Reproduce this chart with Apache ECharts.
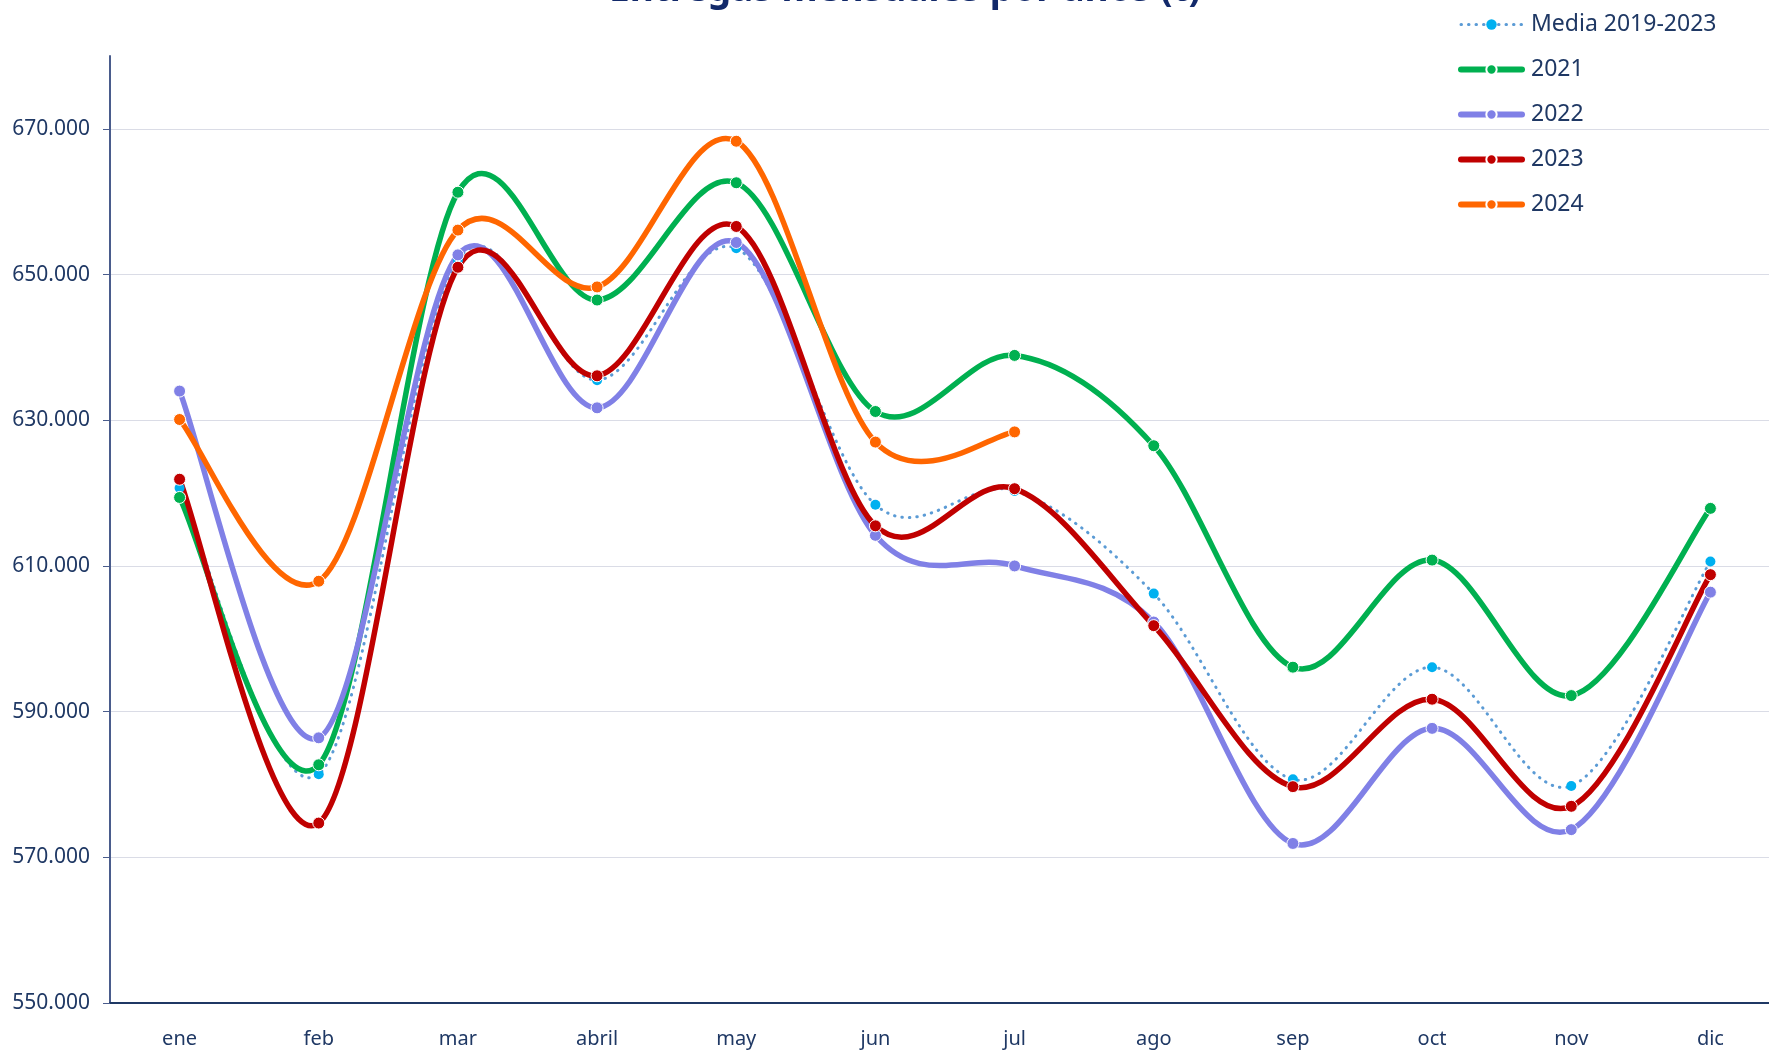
<!DOCTYPE html>
<html>
<head>
<meta charset="utf-8">
<script src="https://cdn.jsdelivr.net/npm/echarts@6/dist/echarts.min.js"></script>
<style>
  html, body { margin: 0; padding: 0; background: #fff; }
  #chart { width: 1769px; height: 1051px; }
</style>
</head>
<body>
<div id="chart"></div>
<script>
// meses y entregas (t)
const months = ['ene', 'feb', 'mar', 'abril', 'may', 'jun', 'jul', 'ago', 'sep', 'oct', 'nov', 'dic'];
const media = [620700, 581400, 652000, 635500, 653600, 618400, 620300, 606200, 580700, 596100, 579800, 610600];
const y2021 = [619400, 582700, 661300, 646500, 662600, 631200, 638900, 626500, 596100, 610800, 592200, 617900];
const y2022 = [634000, 586400, 652700, 631700, 654400, 614200, 610000, 602300, 571900, 587700, 573800, 606400];
const y2023 = [621900, 574700, 651000, 636100, 656600, 615500, 620600, 601800, 579700, 591700, 577000, 608800];
const y2024 = [630100, 607900, 656100, 648300, 668300, 627000, 628400];

const navy = '#1F3864';
const font = 'Noto Sans';

const fmt = v => String(v).replace(/\B(?=(\d{3})+(?!\d))/g, '.');

// curva suave tipo Excel (Catmull-Rom) dibujada con las coordenadas del eje
const smoothPath = (values, stroke, width, dash) => ({
  type: 'custom',
  silent: true,
  data: values.map((v, i) => [i, v]),
  renderItem: (params, api) => {
    if (params.dataIndex !== 0) return null;
    const pts = values.map((v, i) => api.coord([i, v]));
    let d = 'M' + pts[0][0] + ' ' + pts[0][1];
    for (let i = 0; i < pts.length - 1; i++) {
      const p0 = pts[Math.max(i - 1, 0)];
      const p1 = pts[i];
      const p2 = pts[i + 1];
      const p3 = pts[Math.min(i + 2, pts.length - 1)];
      const c1 = [p1[0] + (p2[0] - p0[0]) / 6, p1[1] + (p2[1] - p0[1]) / 6];
      const c2 = [p2[0] - (p3[0] - p1[0]) / 6, p2[1] - (p3[1] - p1[1]) / 6];
      d += ' C' + c1[0] + ' ' + c1[1] + ' ' + c2[0] + ' ' + c2[1] + ' ' + p2[0] + ' ' + p2[1];
    }
    return {
      type: 'path',
      shape: { pathData: d },
      style: {
        fill: null, stroke, lineWidth: width, lineCap: 'round', lineJoin: 'round',
        lineDash: dash || null
      }
    };
  }
});

// solo marcadores (la línea la pinta smoothPath)
const markers = (name, data, color, border) => ({
  name,
  type: 'line',
  data,
  symbol: 'circle',
  symbolSize: border ? 12 : 10,
  lineStyle: { opacity: 0 },
  itemStyle: { color, borderColor: border ? '#fff' : color, borderWidth: border ? 1 : 0 }
});

const chart = echarts.init(document.getElementById('chart'));
const option = {
  animation: false,
  title: {
    text: 'Entregas mensuales por años (t)',
    left: 604,
    top: -33,
    textStyle: { fontFamily: font, fontSize: 37, fontWeight: 'bold', color: '#12296A' }
  },
  legend: {
    orient: 'vertical',
    left: 1453,
    top: 8,
    itemWidth: 61,
    itemHeight: 13,
    itemGap: 22,
    textStyle: { fontFamily: font, fontSize: 23, color: navy, padding: [0, 0, 0, 4] },
    data: [
      { name: 'Media 2019-2023', lineStyle: { opacity: 1, color: '#5B9BD5', width: 3, type: [0.5, 7], cap: 'round' } },
      { name: '2021', lineStyle: { opacity: 1, color: '#00B050', width: 6, cap: 'round' } },
      { name: '2022', lineStyle: { opacity: 1, color: '#8080E6', width: 6, cap: 'round' } },
      { name: '2023', lineStyle: { opacity: 1, color: '#C00000', width: 6, cap: 'round' } },
      { name: '2024', lineStyle: { opacity: 1, color: '#FF6600', width: 6, cap: 'round' } }
    ]
  },
  grid: { left: 110, width: 1670, top: 56, bottom: 48, outerBoundsMode: 'none' },
  xAxis: {
    type: 'category',
    data: months,
    axisLine: { lineStyle: { color: navy, width: 2 } },
    axisTick: { length: 9, lineStyle: { color: navy, width: 1 } },
    axisLabel: { fontFamily: font, fontSize: 20, color: navy, margin: 26 }
  },
  yAxis: {
    type: 'value',
    min: 550000,
    max: 680000,
    interval: 20000,
    axisLine: { show: true, lineStyle: { color: '#4A5C8C', width: 2 } },
    axisTick: { show: true, length: 7, lineStyle: { color: '#4A5C8C' } },
    axisLabel: {
      fontFamily: font, fontSize: 21, color: navy, margin: 20,
      showMaxLabel: false,
      formatter: v => (v > 670000 ? '' : fmt(v))
    },
    splitLine: { showMaxLine: false, lineStyle: { color: '#DADCE6', width: 1 } }
  },
  series: [
    smoothPath(media, '#5B9BD5', 3, [0.5, 7]),
    markers('Media 2019-2023', media, '#00B0F0', false),
    smoothPath(y2021, '#00B050', 5.5),
    markers('2021', y2021, '#00B050', true),
    smoothPath(y2022, '#8080E6', 5.5),
    markers('2022', y2022, '#8080E6', true),
    smoothPath(y2023, '#C00000', 5.5),
    markers('2023', y2023, '#C00000', true),
    smoothPath(y2024, '#FF6600', 5.5),
    markers('2024', y2024, '#FF6600', true)
  ]
};
chart.setOption(option);
</script>
</body>
</html>
